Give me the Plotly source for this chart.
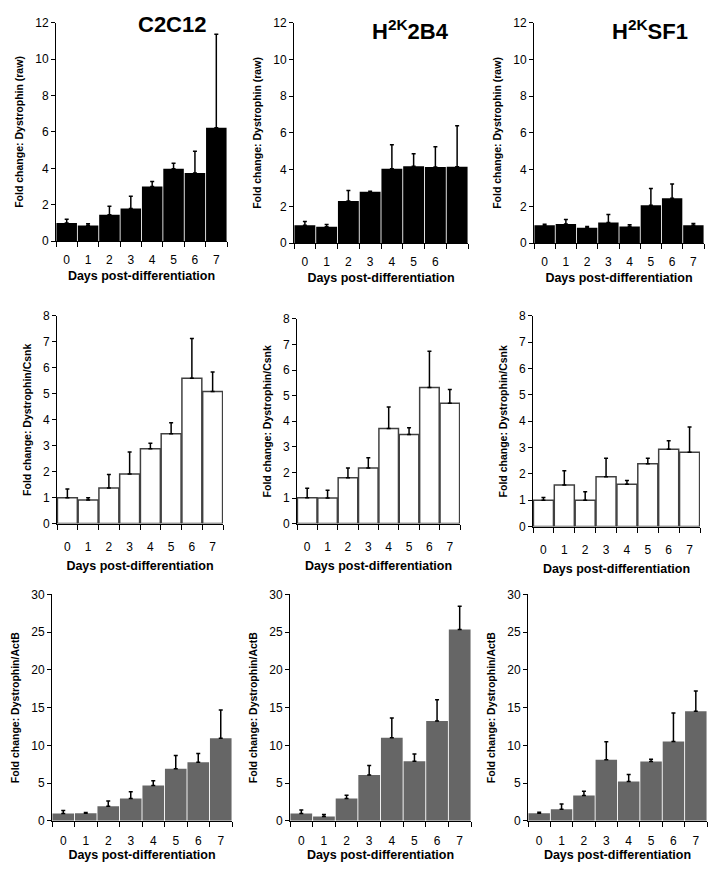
import plotly.graph_objects as go

days = [0, 1, 2, 3, 4, 5, 6, 7]
tick_labels_std = ["0", "1", "2", "3", "4", "5", "6", "7"]
tick_labels_2b4_raw = ["0", "1", "2", "3", "4", "5", "6", ""]

cell_lines = ["C2C12", "H<sup>2K</sup>2B4", "H<sup>2K</sup>SF1"]
y_titles = ["Fold change: Dystrophin (raw)", "Fold change: Dystrophin/Csnk", "Fold change: Dystrophin/ActB"]
x_title = "Days post-differentiation"

# Row 1: raw
c2c12_raw = [1.0, 0.86, 1.45, 1.8, 3.0, 3.98, 3.75, 6.23]
c2c12_raw_err = [0.2, 0.1, 0.47, 0.67, 0.28, 0.3, 1.19, 5.14]
b4_raw = [0.98, 0.89, 2.29, 2.8, 4.05, 4.19, 4.14, 4.16]
b4_raw_err = [0.2, 0.13, 0.57, 0.03, 1.31, 0.68, 1.11, 2.23]
sf1_raw = [0.98, 1.04, 0.84, 1.13, 0.91, 2.07, 2.45, 0.98]
sf1_raw_err = [0.05, 0.25, 0.07, 0.43, 0.09, 0.91, 0.77, 0.09]

# Row 2: Csnk normalised
c2c12_csnk = [1.0, 0.91, 1.37, 1.91, 2.88, 3.46, 5.6, 5.09]
c2c12_csnk_err = [0.33, 0.09, 0.52, 0.85, 0.22, 0.43, 1.53, 0.75]
b4_csnk = [1.01, 1.0, 1.79, 2.17, 3.72, 3.48, 5.32, 4.7]
b4_csnk_err = [0.37, 0.3, 0.38, 0.4, 0.84, 0.27, 1.42, 0.54]
sf1_csnk = [1.0, 1.58, 1.0, 1.89, 1.61, 2.39, 2.94, 2.82]
sf1_csnk_err = [0.1, 0.54, 0.32, 0.7, 0.14, 0.2, 0.32, 0.96]

# Row 3: ActB normalised
c2c12_actb = [0.96, 1.0, 1.91, 2.95, 4.69, 6.9, 7.77, 10.94]
c2c12_actb_err = [0.39, 0.1, 0.7, 0.91, 0.61, 1.74, 1.13, 3.74]
b4_actb = [0.95, 0.56, 2.95, 6.07, 11.01, 7.89, 13.22, 25.36]
b4_actb_err = [0.48, 0.26, 0.43, 1.26, 2.6, 0.95, 2.82, 3.07]
sf1_actb = [1.0, 1.52, 3.34, 8.08, 5.21, 7.86, 10.51, 14.5]
sf1_actb_err = [0.13, 0.69, 0.57, 2.38, 0.91, 0.3, 3.78, 2.7]

W, H = 716, 874
FONT = "Arial, Liberation Sans, sans-serif"

panels = [
    # (values, errors, ymax, dtick, fill, outline, ticktext, xdom px, ydom px)
    (c2c12_raw, c2c12_raw_err, 12, 2, "#000000", None, tick_labels_std, (56, 227), (16, 238)),
    (b4_raw, b4_raw_err, 12, 2, "#000000", None, tick_labels_2b4_raw, (294, 468), (16, 240)),
    (sf1_raw, sf1_raw_err, 12, 2, "#000000", None, tick_labels_std, (534, 704), (16, 240)),
    (c2c12_csnk, c2c12_csnk_err, 8, 1, "#ffffff", "#404040", tick_labels_std, (57, 223), (314, 525)),
    (b4_csnk, b4_csnk_err, 8, 1, "#ffffff", "#404040", tick_labels_std, (297, 460), (317, 525)),
    (sf1_csnk, sf1_csnk_err, 8, 1, "#ffffff", "#404040", tick_labels_std, (533, 700), (314, 528)),
    (c2c12_actb, c2c12_actb_err, 30, 5, "#666666", None, tick_labels_std, (52, 232), (597, 827)),
    (b4_actb, b4_actb_err, 30, 5, "#666666", None, tick_labels_std, (290, 471), (597, 827)),
    (sf1_actb, sf1_actb_err, 30, 5, "#666666", None, tick_labels_std, (528, 707), (597, 827)),
]
label_standoff = [7, 12, 9]
title_standoff = [5, 8, 0]
boundaries = [d - 0.5 for d in days] + [days[-1] + 0.5]

fig = go.Figure()
layout = {}
annotations = []

for i, (vals, errs, ymax, dt, fill, outline, ttext, xd, yd) in enumerate(panels):
    n = i + 1
    xa = "x" if n == 1 else f"x{n}"
    ya = "y" if n == 1 else f"y{n}"
    xkey = "xaxis" if n == 1 else f"xaxis{n}"
    ykey = "yaxis" if n == 1 else f"yaxis{n}"
    row = i // 3

    fig.add_trace(go.Bar(
        x=days, y=vals, xaxis=xa, yaxis=ya,
        marker=dict(color=fill,
                    line=dict(color=outline if outline else "rgba(0,0,0,0)",
                              width=1.5 if outline else 0)),
        error_y=dict(type="data", symmetric=False, array=errs,
                     arrayminus=[0] * len(errs),
                     color="#000000", thickness=1.5, width=2),
        showlegend=False, hoverinfo="skip",
    ))

    layout[xkey] = dict(
        domain=[xd[0] / W, xd[1] / W], anchor=ya, type="linear",
        range=[-0.5, 7.5], tickmode="array", tickvals=days, ticktext=ttext,
        ticks="", ticklabelstandoff=label_standoff[row],
        minor=dict(tickmode="array", tickvals=boundaries, ticks="outside",
                   ticklen=5, tickwidth=1, tickcolor="#000000", showgrid=False),
        showline=True, linecolor="#000000", linewidth=1,
        showgrid=False, zeroline=False, fixedrange=True,
        tickfont=dict(family=FONT, size=12, color="#000000"),
        title=dict(text="<b>" + x_title + "</b>", standoff=title_standoff[row],
                   font=dict(family=FONT, size=12.5, color="#000000")),
    )
    layout[ykey] = dict(
        domain=[1 - yd[1] / H, 1 - yd[0] / H], anchor=xa,
        range=[0, ymax], dtick=dt, tick0=0,
        ticks="outside", ticklen=4, tickwidth=1, tickcolor="#000000",
        showline=True, linecolor="#000000", linewidth=1,
        showgrid=False, zeroline=False, fixedrange=True,
        tickfont=dict(family=FONT, size=12, color="#000000"),
        title=dict(text="<b>" + y_titles[row] + "</b>", standoff=9,
                   font=dict(family=FONT, size=10.5, color="#000000")),
    )

# Panel titles (cell lines)
title_pos = [(172, 18), (410, 23), (650, 23)]
for name, (px, py) in zip(cell_lines, title_pos):
    annotations.append(dict(
        text="<b>" + name + "</b>", xref="paper", yref="paper",
        x=px / W, y=1 - py / H, xanchor="center", yanchor="middle",
        showarrow=False, font=dict(family=FONT, size=22, color="#000000"),
    ))

fig.update_layout(
    width=W, height=H, margin=dict(l=0, r=0, t=0, b=0),
    paper_bgcolor="#ffffff", plot_bgcolor="#ffffff",
    bargap=0.04, annotations=annotations, **layout,
)

fig.write_html("out.html",
               config={"displayModeBar": False, "staticPlot": True},
               post_script="document.body.style.margin='0';document.body.style.overflow='hidden';")
